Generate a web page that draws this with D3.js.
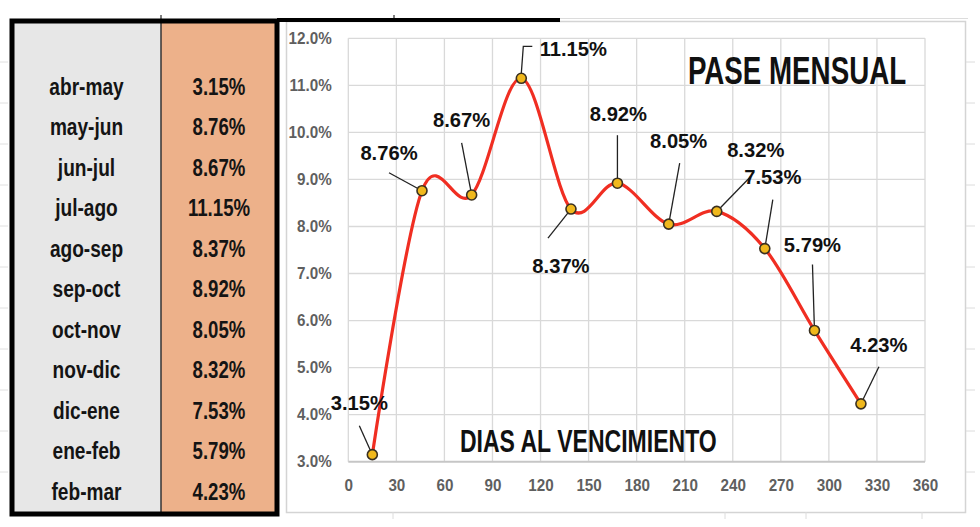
<!DOCTYPE html>
<html>
<head>
<meta charset="utf-8">
<script src="https://cdn.jsdelivr.net/npm/d3@7/dist/d3.min.js"></script>
<style>
  html, body { margin: 0; padding: 0; background: #fff; }
  svg { display: block; }
  text { font-family: "Liberation Sans", Arial, sans-serif; font-weight: bold; }
</style>
</head>
<body>
<svg id="chart" width="980" height="527"></svg>
<script>
// ---------- data ----------
const periods = ["abr-may","may-jun","jun-jul","jul-ago","ago-sep","sep-oct","oct-nov","nov-dic","dic-ene","ene-feb","feb-mar"];
const days    = [15, 46, 77, 108, 139, 168, 200, 230, 260, 291, 320];
const pase    = [3.15, 8.76, 8.67, 11.15, 8.37, 8.92, 8.05, 8.32, 7.53, 5.79, 4.23];
const xTicks  = [0, 30, 60, 90, 120, 150, 180, 210, 240, 270, 300, 330, 360];
const yTicks  = [3, 4, 5, 6, 7, 8, 9, 10, 11, 12];
const chartTitle = "PASE MENSUAL";
const xTitle = "DIAS AL VENCIMIENTO";

// label layout (offsets from each point, px): label centre and leader polyline
const labelLayout = [
  {dx:-13, dy:-52, leader:[[0,0],[-13,-29]]},
  {dx:-33, dy:-38, leader:[[0,0],[-33,-18]]},
  {dx:-10, dy:-76, leader:[[0,0],[-10,-52]]},
  {dx: 52, dy:-30, leader:[[0,-5],[2,-32],[11,-32]]},
  {dx:-10, dy: 56, leader:[[0,0],[-23,29]]},
  {dx:  1, dy:-70, leader:[[0,0],[0,-48]]},
  {dx: 10, dy:-84, leader:[[0,0],[11,-61]]},
  {dx: 39, dy:-62, leader:[[0,0],[34,-35]]},
  {dx:  8, dy:-72, leader:[[0,0],[8,-49]]},
  {dx: -2, dy:-86, leader:[[0,0],[-2,-66]]},
  {dx: 18, dy:-59, leader:[[0,0],[18,-37]]}
];

const fmt = v => v.toFixed(2) + "%";
const svg = d3.select("#chart");

// narrow the glyphs horizontally (the original uses a condensed face)
function condense(sel, f) {
  sel.each(function() {
    const w = this.getComputedTextLength();
    d3.select(this).attr("textLength", (w * f).toFixed(1)).attr("lengthAdjust", "spacingAndGlyphs");
  });
}

// ---------- background sheet artifacts ----------
const bg = svg.append("g");
bg.append("rect").attr("x",286.5).attr("y",21.5).attr("width",679).attr("height",491)
  .attr("fill","#fff").attr("stroke","#d4d4d4").attr("stroke-width",1.5);
bg.append("line").attr("x1",560).attr("x2",968).attr("y1",18.5).attr("y2",18.5).attr("stroke","#dcdcdc").attr("stroke-width",1);
[62,103,144,185,226,267,308,349,390,431,472].forEach(y=>{
  bg.append("line").attr("x1",966).attr("x2",975).attr("y1",y).attr("y2",y).attr("stroke","#dcdcdc");
  bg.append("line").attr("x1",0).attr("x2",8).attr("y1",y).attr("y2",y).attr("stroke","#e0e0e0");
});
[393,725,806,922].forEach(x=>{
  bg.append("line").attr("x1",x).attr("x2",x).attr("y1",512).attr("y2",519).attr("stroke","#dcdcdc");
});

// ---------- table ----------
const tX0 = 12, tX1 = 161, tX2 = 277, tY0 = 21, tY1 = 514;
const tab = svg.append("g");
tab.append("rect").attr("x",tX0).attr("y",tY0).attr("width",tX1-tX0).attr("height",tY1-tY0).attr("fill","#e7e7e7");
tab.append("rect").attr("x",tX1).attr("y",tY0).attr("width",tX2-tX1).attr("height",tY1-tY0).attr("fill","#edb18a");
tab.append("line").attr("x1",tX1).attr("x2",tX1).attr("y1",tY0).attr("y2",tY1).attr("stroke","#333").attr("stroke-width",1.5);
tab.append("rect").attr("x",tX0).attr("y",tY0).attr("width",tX2-tX0).attr("height",tY1-tY0)
  .attr("fill","none").attr("stroke","#000").attr("stroke-width",5);
tab.append("line").attr("x1",tX2).attr("x2",560).attr("y1",20).attr("y2",20).attr("stroke","#000").attr("stroke-width",4);
tab.append("line").attr("x1",161).attr("x2",161).attr("y1",15).attr("y2",19).attr("stroke","#000").attr("stroke-width",1);
tab.append("line").attr("x1",394).attr("x2",394).attr("y1",15).attr("y2",19).attr("stroke","#000").attr("stroke-width",1);

const rowY = d3.scalePoint().domain(periods).range([86.7, 491.7]);
tab.selectAll(".per").data(periods).join("text")
  .attr("x",(tX0+tX1)/2).attr("y",d=>rowY(d)).attr("dy","0.36em")
  .attr("text-anchor","middle").attr("font-size",23).attr("fill","#141414")
  .text(d=>d).call(condense, 0.83);
tab.selectAll(".val").data(pase).join("text")
  .attr("x",(tX1+tX2)/2).attr("y",(d,i)=>rowY(periods[i])).attr("dy","0.36em")
  .attr("text-anchor","middle").attr("font-size",23).attr("fill","#141414")
  .text(d=>fmt(d)).call(condense, 0.81);

// ---------- chart ----------
const x = d3.scaleLinear().domain([0,360]).range([348.3, 925]);
const y = d3.scaleLinear().domain([3,12]).range([461.7, 38.3]);
const g = svg.append("g");

g.selectAll(".vg").data(xTicks).join("line")
  .attr("x1",d=>x(d)).attr("x2",d=>x(d)).attr("y1",y(12)).attr("y2",y(3))
  .attr("stroke","#d9d9d9").attr("stroke-width",1.3);
g.selectAll(".hg").data(yTicks).join("line")
  .attr("x1",x(0)).attr("x2",x(360)).attr("y1",d=>y(d)).attr("y2",d=>y(d))
  .attr("stroke",d=>d===3?"#c6c6c6":"#d9d9d9").attr("stroke-width",d=>d===3?2:1.3);

const yAxis = d3.axisLeft(y).tickValues(yTicks).tickFormat(d=>d.toFixed(1)+"%").tickSize(0).tickPadding(0);
g.append("g").attr("transform","translate(331.7,0)").call(yAxis)
  .call(a=>a.select(".domain").remove())
  .call(a=>a.selectAll("text").attr("font-size",16).attr("fill","#5f5f5f")
    .attr("font-family",null).attr("font-weight",null).call(condense, 0.95));
const xAxis = d3.axisBottom(x).tickValues(xTicks).tickFormat(d3.format("d")).tickSize(0).tickPadding(0);
g.append("g").attr("transform","translate(0,480)").call(xAxis)
  .call(a=>a.select(".domain").remove())
  .call(a=>a.selectAll("text").attr("font-size",16).attr("fill","#5f5f5f")
    .attr("font-family",null).attr("font-weight",null).call(condense, 0.95));

// line
const pts = days.map((d,i)=>[d, pase[i]]);
const line = d3.line().x(d=>x(d[0])).y(d=>y(d[1])).curve(d3.curveCatmullRom.alpha(0));
g.append("path").datum(pts).attr("d",line).attr("fill","none")
  .attr("stroke","#f02e22").attr("stroke-width",3.2).attr("stroke-linejoin","round");

// leaders
g.selectAll(".leader").data(pts).join("polyline")
  .attr("points",(d,i)=>labelLayout[i].leader.map(p=>[x(d[0])+p[0], y(d[1])+p[1]].join(",")).join(" "))
  .attr("fill","none").attr("stroke","#222").attr("stroke-width",1.3);

// markers
g.selectAll(".mk").data(pts).join("circle")
  .attr("cx",d=>x(d[0])).attr("cy",d=>y(d[1])).attr("r",5)
  .attr("fill","#f0b81c").attr("stroke","#3a3020").attr("stroke-width",1.6);

// data labels
g.selectAll(".lbl").data(pts).join("text")
  .attr("x",(d,i)=>x(d[0])+labelLayout[i].dx).attr("y",(d,i)=>y(d[1])+labelLayout[i].dy).attr("dy","0.36em")
  .attr("text-anchor","middle").attr("font-size",21).attr("fill","#111")
  .text(d=>fmt(d[1])).call(condense, 0.96);

// titles (horizontally scaled to mimic the condensed face)
g.append("text").attr("transform","translate(797,70) scale(0.73,1)").attr("dy","0.36em").attr("text-anchor","middle")
  .attr("font-size",38).attr("fill","#111")
  .text(chartTitle);
g.append("text").attr("transform","translate(588.3,440) scale(0.72,1)").attr("dy","0.36em").attr("text-anchor","middle")
  .attr("font-size",32).attr("fill","#111")
  .text(xTitle);
</script>
</body>
</html>
